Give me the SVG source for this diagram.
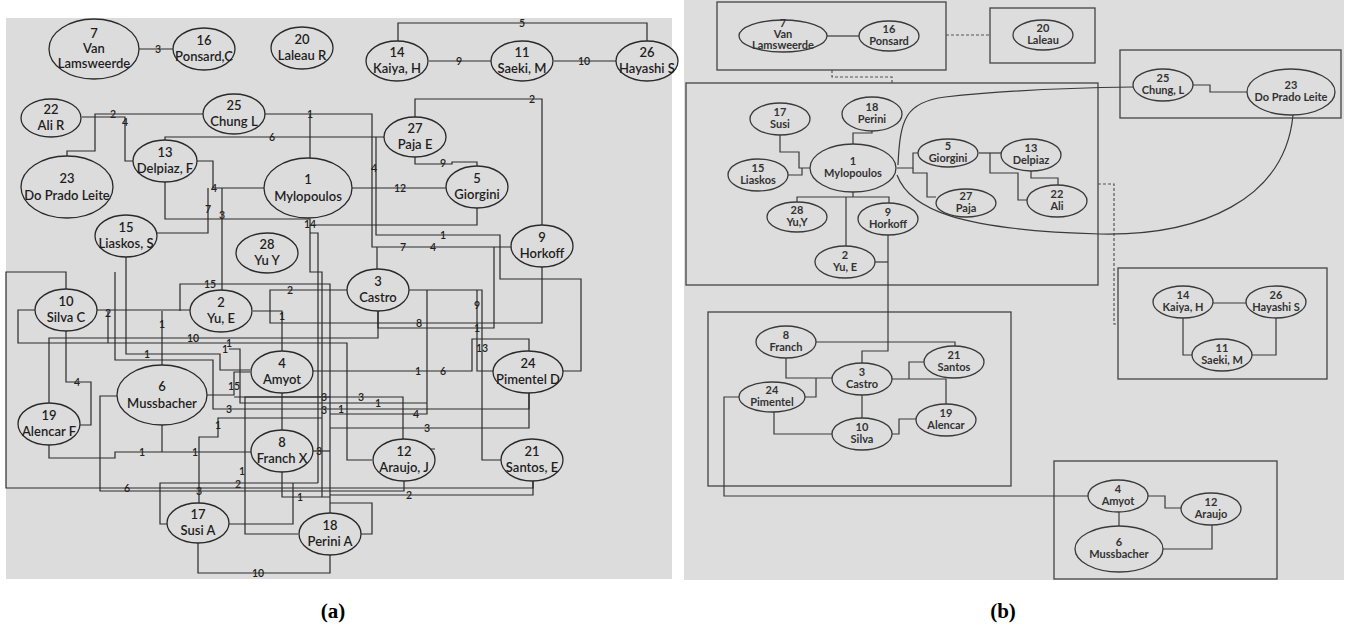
<svg xmlns="http://www.w3.org/2000/svg" width="1348" height="630" viewBox="0 0 1348 630">
<style>
.na ellipse{fill:#dcdcdc;stroke:#2a2a2a;stroke-width:1.3}
.na text{font-family:Lato,"Liberation Sans",sans-serif;font-size:13px;font-weight:600;fill:#1e1e1e;text-anchor:middle}
.nb ellipse{fill:#dddddd;stroke:#3a3a3a;stroke-width:1.3}
.nb text{font-family:Lato,"Liberation Sans",sans-serif;font-size:11px;font-weight:bold;fill:#333;text-anchor:middle}
.ea path{fill:none;stroke:#2a2a2a;stroke-width:1.2}
.ea text{font-family:Lato,"Liberation Sans",sans-serif;font-size:10.5px;font-weight:600;fill:#222;text-anchor:middle;dominant-baseline:central}
.eb path{fill:none;stroke:#3a3a3a;stroke-width:1.2}
.box{fill:none;stroke:#444;stroke-width:1.3}
.eb path.dash{stroke:#555;stroke-dasharray:3 2}
.cap{font-family:"Liberation Serif",serif;font-weight:bold;font-size:21px;text-anchor:middle;fill:#000}
</style>
<rect x="0" y="0" width="1348" height="630" fill="#ffffff"/>
<rect x="6" y="18" width="666" height="561" fill="#dcdcdc"/>
<rect x="684" y="0" width="660" height="580" fill="#dddddd"/>

<!-- panel (a) connectors -->
<g id="edges-a" class="ea">
<path d="M139,49 H173"/><text x="158" y="49">3</text>
<path d="M429,61 H491"/><text x="459" y="61">9</text>
<path d="M554,61 H616"/><text x="584" y="61">10</text>
<path d="M398,41 V23 H647 V41"/><text x="522" y="23">5</text>
<path d="M67,156 V151 H95 V114 H203"/><text x="113" y="114">2</text>
<path d="M82,117 H125 V161 H133"/><text x="125" y="122">4</text>
<path d="M264,114 H372 V247 H512"/><text x="310" y="114">1</text><text x="433" y="247">4</text>
<path d="M310,114 V158"/>
<path d="M165,140 V137 H384"/><text x="272" y="137">6</text>
<path d="M352,188 H446"/><text x="400" y="188">12</text>
<path d="M415,157 V164 H452 V162 H477 V167"/><text x="443" y="163">9</text>
<path d="M415,117 V99 H542 V225"/><text x="532" y="99">2</text>
<path d="M197,161 H213 V188 H264"/><text x="214" y="188">4</text>
<path d="M157,233 H208 V188"/><text x="208" y="209">7</text>
<path d="M222,188 V290"/><text x="222" y="215">3</text>
<path d="M165,182 V219 H310 V225 H477 V208"/><text x="310" y="224">14</text>
<path d="M376,137 V235 H500 V279 H581 V371 H563"/><text x="374" y="168">4</text><text x="443" y="235">1</text>
<path d="M377,247 V269"/><text x="403" y="247">7</text>
<path d="M253,311 H282 V351"/><text x="282" y="316">1</text>
<path d="M270,311 V290 H347"/><text x="290" y="290">2</text>
<path d="M270,311 V323 H542 V267"/><text x="419" y="323">8</text>
<path d="M378,311 V328 H494 V247"/><text x="477" y="328">1</text>
<path d="M378,311 V338 H49 V404"/><text x="193" y="338">10</text>
<path d="M409,290 H482 V460 H501"/><text x="482" y="348">13</text>
<path d="M477,290 V371 H493"/><text x="477" y="305">9</text>
<path d="M427,290 V414 H330"/><text x="416" y="414">4</text>
<path d="M313,371 H472 V339 H529 V351"/><text x="418" y="371">1</text><text x="443" y="371">6</text>
<path d="M35,310 H18 V343 H347 V460 H372"/><text x="229" y="343">1</text>
<path d="M97,310 H190"/><path d="M108,311 V343"/><text x="108" y="313">2</text>
<path d="M162,311 V365"/><text x="162" y="324">1</text>
<path d="M180,311 V284 H330 V514"/><text x="210" y="284">15</text>
<path d="M126,257 V354 H220 V370 H250"/><text x="147" y="354">1</text>
<path d="M66,290 V272 H6 V488 H533 V481"/><text x="127" y="488">6</text>
<path d="M115,272 V360 H213 V409 H529 V393"/><text x="229" y="409">3</text><text x="341" y="409">1</text><text x="324" y="410">3</text>
<path d="M66,331 V382 H91 V425 H80"/><text x="77" y="382">4</text>
<path d="M207,395 H234 V372 H250"/><text x="234" y="386">15</text>
<path d="M234,397 H330"/><text x="324" y="397">3</text>
<path d="M298,534 H245 V397 H403 V439"/><text x="242" y="471">1</text><text x="361" y="397">3</text>
<path d="M199,503 V437 H218 V418 H322"/><text x="218" y="425">1</text><text x="199" y="491">3</text>
<path d="M49,445 V458 H115 V452 H251"/><text x="142" y="452">1</text><text x="195" y="452">1</text>
<path d="M162,425 V452"/>
<path d="M313,451 H330"/><text x="319" y="451">3</text>
<path d="M282,393 V431"/>
<path d="M282,472 V497 H330"/><text x="300" y="497">1</text>
<path d="M198,543 V573 H330 V555"/><text x="258" y="573">10</text>
<path d="M167,524 H160 V483 H318"/><text x="238" y="484">2</text>
<path d="M293,483 V524 H229"/>
<path d="M117,396 H100 V491 H404 V481"/>
<path d="M330,495 H533 V481"/><text x="409" y="495">2</text>
<path d="M361,534 H372 V503 H330"/>
<path d="M435,449 H418 V460 H435"/>
<path d="M529,393 V428 H330"/><text x="427" y="428">3</text>
<path d="M229,349 H240 V403 H427"/><text x="225" y="349">1</text><text x="378" y="403">1</text>
<path d="M310,225 V272 H322 V497"/>
<path d="M310,233 H318 V483"/>
</g>

<!-- panel (a) nodes -->
<g id="a7" class="na"><ellipse cx="94" cy="49" rx="45" ry="30"/><text x="94" y="38">7</text><text x="94" y="53">Van</text><text x="94" y="68">Lamsweerde</text></g>
<g id="a16" class="na"><ellipse cx="204" cy="49" rx="31" ry="21"/><text x="204" y="45">16</text><text x="204" y="61">Ponsard,C</text></g>
<g id="a20" class="na"><ellipse cx="302" cy="48" rx="31" ry="21"/><text x="302" y="44">20</text><text x="302" y="60">Laleau R</text></g>
<g id="a14" class="na"><ellipse cx="397" cy="61" rx="31" ry="20"/><text x="397" y="57">14</text><text x="397" y="73">Kaiya, H</text></g>
<g id="a11" class="na"><ellipse cx="522" cy="61" rx="31" ry="20"/><text x="522" y="57">11</text><text x="522" y="73">Saeki, M</text></g>
<g id="a26" class="na"><ellipse cx="647" cy="61" rx="31" ry="20"/><text x="647" y="57">26</text><text x="647" y="73">Hayashi S</text></g>
<g id="a22" class="na"><ellipse cx="51" cy="118" rx="30" ry="19"/><text x="51" y="114">22</text><text x="51" y="130">Ali R</text></g>
<g id="a25" class="na"><ellipse cx="234" cy="114" rx="31" ry="20"/><text x="234" y="110">25</text><text x="234" y="126">Chung L</text></g>
<g id="a27" class="na"><ellipse cx="415" cy="137" rx="31" ry="20"/><text x="415" y="133">27</text><text x="415" y="149">Paja E</text></g>
<g id="a23" class="na"><ellipse cx="67" cy="187" rx="46" ry="31"/><text x="67" y="183">23</text><text x="67" y="200">Do Prado Leite</text></g>
<g id="a13" class="na"><ellipse cx="165" cy="161" rx="32" ry="21"/><text x="165" y="157">13</text><text x="165" y="173">Delpiaz, F</text></g>
<g id="a1" class="na"><ellipse cx="308" cy="188" rx="44" ry="30"/><text x="308" y="184">1</text><text x="308" y="201">Mylopoulos</text></g>
<g id="a5" class="na"><ellipse cx="477" cy="187" rx="31" ry="21"/><text x="477" y="183">5</text><text x="477" y="199">Giorgini</text></g>
<g id="a15" class="na"><ellipse cx="126" cy="236" rx="31" ry="21"/><text x="126" y="232">15</text><text x="126" y="248">Liaskos, S</text></g>
<g id="a28" class="na"><ellipse cx="267" cy="253" rx="31" ry="20"/><text x="267" y="249">28</text><text x="267" y="265">Yu Y</text></g>
<g id="a9" class="na"><ellipse cx="542" cy="246" rx="31" ry="21"/><text x="542" y="242">9</text><text x="542" y="258">Horkoff</text></g>
<g id="a3" class="na"><ellipse cx="378" cy="290" rx="31" ry="21"/><text x="378" y="286">3</text><text x="378" y="302">Castro</text></g>
<g id="a10" class="na"><ellipse cx="66" cy="310" rx="31" ry="21"/><text x="66" y="306">10</text><text x="66" y="322">Silva C</text></g>
<g id="a2" class="na"><ellipse cx="221" cy="311" rx="31" ry="21"/><text x="221" y="307">2</text><text x="221" y="323">Yu, E</text></g>
<g id="a4" class="na"><ellipse cx="282" cy="372" rx="31" ry="21"/><text x="282" y="368">4</text><text x="282" y="384">Amyot</text></g>
<g id="a24" class="na"><ellipse cx="528" cy="372" rx="35" ry="21"/><text x="528" y="368">24</text><text x="528" y="384">Pimentel D</text></g>
<g id="a6" class="na"><ellipse cx="162" cy="395" rx="45" ry="30"/><text x="162" y="391">6</text><text x="162" y="408">Mussbacher</text></g>
<g id="a19" class="na"><ellipse cx="49" cy="424" rx="31" ry="21"/><text x="49" y="420">19</text><text x="49" y="436">Alencar F</text></g>
<g id="a8" class="na"><ellipse cx="282" cy="451" rx="31" ry="21"/><text x="282" y="447">8</text><text x="282" y="463">Franch X</text></g>
<g id="a12" class="na"><ellipse cx="404" cy="460" rx="31" ry="21"/><text x="404" y="456">12</text><text x="404" y="472">Araujo, J</text></g>
<g id="a21" class="na"><ellipse cx="532" cy="460" rx="31" ry="21"/><text x="532" y="456">21</text><text x="532" y="472">Santos, E</text></g>
<g id="a17" class="na"><ellipse cx="198" cy="523" rx="31" ry="20"/><text x="198" y="519">17</text><text x="198" y="535">Susi A</text></g>
<g id="a18" class="na"><ellipse cx="330" cy="534" rx="31" ry="21"/><text x="330" y="530">18</text><text x="330" y="546">Perini A</text></g>

<!-- panel (b) boxes -->
<g id="boxes-b">
<rect class="box" x="717" y="2" width="229" height="68"/>
<rect class="box" x="990" y="8" width="105" height="55"/>
<rect class="box" x="686" y="83" width="412" height="202"/>
<rect class="box" x="1120" y="50" width="221" height="68"/>
<rect class="box" x="1118" y="268" width="209" height="111"/>
<rect class="box" x="708" y="312" width="303" height="174"/>
<rect class="box" x="1054" y="461" width="223" height="118"/>
</g>

<!-- panel (b) connectors -->
<g id="edges-b" class="eb">
<path class="dash" d="M946,35 H990"/>
<path class="dash" d="M832,70 V77 H892 V83"/>
<path class="dash" d="M1098,184 H1114 V324 H1118"/>
<path d="M827,36 H859"/>
<path d="M780,135 V152 H799 V168 H810"/>
<path d="M788,175 H802 V168"/>
<path d="M872,131 V133 H853 V144"/>
<path d="M853,192 V197"/>
<path d="M797,202 V197 H889 V203"/>
<path d="M846,197 V246"/>
<path d="M897,168 H913 V153 H918"/>
<path d="M913,168 V173 H927 V197 H936"/>
<path d="M979,153 H1001"/>
<path d="M1031,171 V178 H1058 V185"/>
<path d="M990,153 V173 H1018 V200 H1027"/>
<path d="M898,165 C900,120 905,102 945,97 C990,92 1060,88 1133,87"/>
<path d="M897,175 C910,210 960,230 1100,234 C1200,236 1285,200 1293,115"/>
<path d="M1193,85 H1210 V92 H1247"/>
<path d="M1213,303 H1246"/>
<path d="M1183,318 V355 H1192"/>
<path d="M1276,318 V355 H1252"/>
<path d="M888,235 V351 H862 V363"/>
<path d="M875,262 H888"/>
<path d="M816,342 H955 V346"/>
<path d="M786,358 V378 H832"/>
<path d="M816,378 V397 H805"/>
<path d="M892,379 H946 V404"/>
<path d="M924,362 H909 V379"/>
<path d="M862,395 V418"/>
<path d="M774,412 V434 H832"/>
<path d="M892,434 H899 V419 H916"/>
<path d="M739,397 H724 V496 H1088"/>
<path d="M1148,496 H1165 V508 H1181"/>
<path d="M1119,512 V526"/>
<path d="M1163,549 H1212 V525"/>
</g>

<!-- panel (b) nodes -->
<g id="b7" class="nb"><ellipse cx="783" cy="36" rx="44" ry="16"/><text x="783" y="27">7</text><text x="783" y="38">Van</text><text x="783" y="49">Lamsweerde</text></g>
<g id="b16" class="nb"><ellipse cx="889" cy="36" rx="30" ry="15"/><text x="889" y="33">16</text><text x="889" y="45">Ponsard</text></g>
<g id="b20" class="nb"><ellipse cx="1043" cy="35" rx="30" ry="15"/><text x="1043" y="32">20</text><text x="1043" y="44">Laleau</text></g>
<g id="b17" class="nb"><ellipse cx="780" cy="119" rx="30" ry="16"/><text x="780" y="116">17</text><text x="780" y="128">Susi</text></g>
<g id="b18" class="nb"><ellipse cx="872" cy="114" rx="30" ry="17"/><text x="872" y="111">18</text><text x="872" y="123">Perini</text></g>
<g id="b15" class="nb"><ellipse cx="758" cy="175" rx="30" ry="16"/><text x="758" y="172">15</text><text x="758" y="184">Liaskos</text></g>
<g id="b1" class="nb"><ellipse cx="853" cy="168" rx="43" ry="24"/><text x="853" y="165">1</text><text x="853" y="177">Mylopoulos</text></g>
<g id="b5" class="nb"><ellipse cx="948" cy="153" rx="30" ry="14"/><text x="948" y="150">5</text><text x="948" y="162">Giorgini</text></g>
<g id="b13" class="nb"><ellipse cx="1031" cy="155" rx="30" ry="16"/><text x="1031" y="152">13</text><text x="1031" y="164">Delpiaz</text></g>
<g id="b22" class="nb"><ellipse cx="1057" cy="201" rx="30" ry="16"/><text x="1057" y="198">22</text><text x="1057" y="210">Ali</text></g>
<g id="b27" class="nb"><ellipse cx="966" cy="203" rx="30" ry="14"/><text x="966" y="200">27</text><text x="966" y="212">Paja</text></g>
<g id="b28" class="nb"><ellipse cx="797" cy="217" rx="30" ry="15"/><text x="797" y="214">28</text><text x="797" y="226">Yu,Y</text></g>
<g id="b9" class="nb"><ellipse cx="888" cy="219" rx="30" ry="16"/><text x="888" y="216">9</text><text x="888" y="228">Horkoff</text></g>
<g id="b2" class="nb"><ellipse cx="845" cy="262" rx="30" ry="16"/><text x="845" y="259">2</text><text x="845" y="271">Yu, E</text></g>
<g id="b25" class="nb"><ellipse cx="1163" cy="85" rx="30" ry="16"/><text x="1163" y="82">25</text><text x="1163" y="94">Chung, L</text></g>
<g id="b23" class="nb"><ellipse cx="1291" cy="92" rx="44" ry="23"/><text x="1291" y="89">23</text><text x="1291" y="101">Do Prado Leite</text></g>
<g id="b14" class="nb"><ellipse cx="1183" cy="302" rx="30" ry="16"/><text x="1183" y="299">14</text><text x="1183" y="311">Kaiya, H</text></g>
<g id="b26" class="nb"><ellipse cx="1276" cy="302" rx="30" ry="16"/><text x="1276" y="299">26</text><text x="1276" y="311">Hayashi S</text></g>
<g id="b11" class="nb"><ellipse cx="1222" cy="355" rx="30" ry="16"/><text x="1222" y="352">11</text><text x="1222" y="364">Saeki, M</text></g>
<g id="b8" class="nb"><ellipse cx="786" cy="342" rx="30" ry="16"/><text x="786" y="339">8</text><text x="786" y="351">Franch</text></g>
<g id="b21" class="nb"><ellipse cx="954" cy="362" rx="30" ry="16"/><text x="954" y="359">21</text><text x="954" y="371">Santos</text></g>
<g id="b3" class="nb"><ellipse cx="862" cy="379" rx="30" ry="16"/><text x="862" y="376">3</text><text x="862" y="388">Castro</text></g>
<g id="b24" class="nb"><ellipse cx="772" cy="397" rx="33" ry="15"/><text x="772" y="394">24</text><text x="772" y="406">Pimentel</text></g>
<g id="b10" class="nb"><ellipse cx="862" cy="434" rx="30" ry="16"/><text x="862" y="431">10</text><text x="862" y="443">Silva</text></g>
<g id="b19" class="nb"><ellipse cx="946" cy="420" rx="30" ry="16"/><text x="946" y="417">19</text><text x="946" y="429">Alencar</text></g>
<g id="b4" class="nb"><ellipse cx="1118" cy="496" rx="30" ry="16"/><text x="1118" y="493">4</text><text x="1118" y="505">Amyot</text></g>
<g id="b12" class="nb"><ellipse cx="1211" cy="509" rx="30" ry="16"/><text x="1211" y="506">12</text><text x="1211" y="518">Araujo</text></g>
<g id="b6" class="nb"><ellipse cx="1119" cy="549" rx="44" ry="23"/><text x="1119" y="546">6</text><text x="1119" y="558">Mussbacher</text></g>

<text class="cap" x="333" y="618">(a)</text>
<text class="cap" x="1003" y="618">(b)</text>
</svg>
